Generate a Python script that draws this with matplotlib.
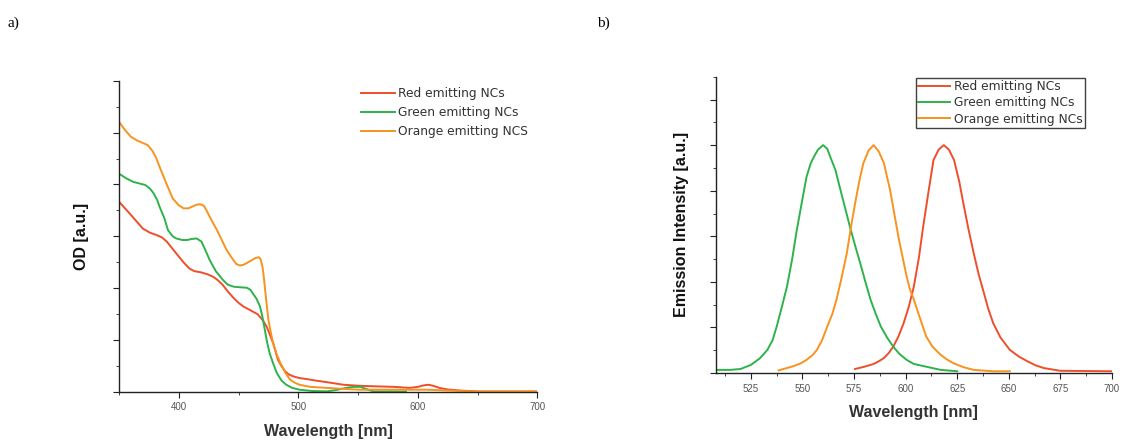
import matplotlib
matplotlib.use('Agg')
import matplotlib.pyplot as plt
import numpy as np
from matplotlib.ticker import MultipleLocator

plt.rcParams['font.family'] = ['Liberation Sans', 'DejaVu Sans']

RED = '#EE4E2C'
GREEN = '#2DB34B'
ORANGE = '#F7931E'

# a) absorption spectra
abs_red_x = [350, 359, 370, 376, 381, 386, 390, 398, 404, 409, 413, 418, 424, 429, 433, 437, 441, 446, 450, 454,
             458, 462, 466, 469, 471, 473.5, 476, 479, 483, 486, 489, 492, 496, 501, 507, 515, 524, 538, 552, 565,
             580, 593, 600, 605, 609, 613, 618, 625, 635, 652, 700]
abs_red_y = [3.67, 3.44, 3.15, 3.07, 3.03, 2.98, 2.9, 2.67, 2.5, 2.38, 2.33, 2.31, 2.27, 2.22, 2.15, 2.06, 1.94, 1.81,
             1.72, 1.65, 1.6, 1.55, 1.5, 1.42, 1.36, 1.26, 1.12, 0.94, 0.62, 0.5, 0.4, 0.34, 0.3, 0.27, 0.25, 0.22,
             0.19, 0.14, 0.12, 0.11, 0.1, 0.08, 0.1, 0.13, 0.14, 0.12, 0.08, 0.05, 0.03, 0.01, 0.01]
abs_green_x = [350, 356, 362, 367, 372, 376, 379, 382, 384, 388, 391, 395, 398, 403, 407, 411, 415, 419, 422, 426,
               431, 437, 441, 446, 451, 457, 460, 462, 465, 468, 470, 472, 474, 476, 479, 482, 486, 490, 495,
               501, 512, 524, 532, 540, 546, 552, 558, 563, 575, 590]
abs_green_y = [4.21, 4.12, 4.05, 4.02, 3.99, 3.92, 3.83, 3.7, 3.57, 3.35, 3.12, 3.0, 2.96, 2.93, 2.93, 2.95, 2.96,
               2.9, 2.75, 2.54, 2.33, 2.16, 2.07, 2.03, 2.02, 2.01, 1.97, 1.9, 1.8, 1.65, 1.45, 1.2, 0.95, 0.75,
               0.55, 0.37, 0.22, 0.14, 0.08, 0.045, 0.02, 0.013, 0.04, 0.08, 0.1, 0.1, 0.05, 0.01, 0.01, 0.01]
abs_orange_x = [350, 355, 360, 365, 370, 374, 378, 381, 384, 390, 395, 400, 404, 408, 411, 415, 418, 421, 423, 427,
                432, 436, 440, 444, 448, 451, 454, 458, 461, 464, 467, 468.5, 470, 471, 472, 473.5, 475, 477, 479,
                482, 485, 489, 493, 497, 501, 510, 524, 538, 552, 580, 607, 625, 649, 700]
abs_orange_y = [5.21, 5.05, 4.92, 4.85, 4.8, 4.76, 4.65, 4.52, 4.34, 4.0, 3.73, 3.6, 3.54, 3.54, 3.57, 3.61, 3.62,
                3.59, 3.51, 3.33, 3.12, 2.93, 2.74, 2.6, 2.47, 2.44, 2.45, 2.5, 2.54, 2.58, 2.6, 2.56, 2.42, 2.25,
                2.03, 1.7, 1.39, 1.15, 0.94, 0.72, 0.56, 0.38, 0.24, 0.18, 0.14, 0.1, 0.08, 0.06, 0.045, 0.045,
                0.045, 0.03, 0.01, 0.01]

# b) emission spectra
em_green_x = [508, 515, 520, 525, 529.5, 533, 535.5, 537.5, 540, 542.5, 545, 547, 549.5, 552, 554, 555.5, 557.5,
              560, 562, 563.5, 566, 568, 570.5, 573, 575.5, 578, 580.5, 583, 585.5, 588, 591, 594, 597, 600.5,
              604, 609, 617, 625]
em_green_y = [0.07, 0.07, 0.09, 0.18, 0.33, 0.51, 0.72, 1.02, 1.45, 1.9, 2.5, 3.07, 3.7, 4.31, 4.6, 4.74, 4.9, 5.0,
              4.92, 4.74, 4.45, 4.09, 3.65, 3.21, 2.8, 2.41, 2.0, 1.61, 1.3, 1.02, 0.78, 0.58, 0.42, 0.29, 0.2,
              0.15, 0.07, 0.04]
em_orange_x = [538.5, 545.5, 549, 552, 555, 557, 559.5, 562, 564.5, 566.5, 569, 571.5, 573.5, 575.5, 577.5,
               579.5, 582, 584.5, 587, 589.5, 591, 592.5, 594.5, 596.5, 598.5, 600.5, 602, 604, 607, 610,
               613, 617, 620, 623, 628, 633, 642.5, 650.5]
em_orange_y = [0.06, 0.15, 0.21, 0.29, 0.4, 0.51, 0.72, 1.02, 1.3, 1.61, 2.1, 2.63, 3.2, 3.72, 4.2, 4.6, 4.88, 5.0,
               4.86, 4.6, 4.3, 4.01, 3.5, 2.99, 2.55, 2.12, 1.85, 1.61, 1.2, 0.8, 0.58, 0.4, 0.3, 0.22, 0.13,
               0.07, 0.04, 0.04]
em_red_x = [575.5, 580, 584.5, 587, 589.5, 592, 594, 596.5, 599, 601.5, 604, 606.5, 608.5, 611, 613.5, 616,
            618.5, 621, 623.5, 626, 628, 630.5, 633, 635.5, 638, 640, 642.5, 646, 650.5, 655, 659, 663, 667,
            675, 700]
em_red_y = [0.09, 0.14, 0.2, 0.26, 0.33, 0.45, 0.58, 0.8, 1.09, 1.45, 1.9, 2.55, 3.21, 3.95, 4.67, 4.9, 5.0, 4.9,
            4.67, 4.2, 3.72, 3.15, 2.63, 2.15, 1.75, 1.42, 1.09, 0.78, 0.51, 0.36, 0.26, 0.17, 0.11, 0.05, 0.04]

fig = plt.figure(figsize=(11.22, 4.41), dpi=100)
ax1 = fig.add_axes([0.106, 0.111, 0.373, 0.706])
ax2 = fig.add_axes([0.638, 0.154, 0.353, 0.672])

def style(ax):
    for s in ['top', 'right']:
        ax.spines[s].set_visible(False)
    for s in ['left', 'bottom']:
        ax.spines[s].set_linewidth(1.0)
        ax.spines[s].set_color('#222222')
    ax.tick_params(which='both', direction='out', colors='#222222', labelcolor='#555555', labelsize=7)
    ax.tick_params(which='major', length=4)
    ax.tick_params(which='minor', length=2.5)
    ax.set_yticklabels([])

legfont = {'family': 'DejaVu Sans', 'size': 8.8}

lw = 1.4
ax1.plot(abs_red_x, abs_red_y, color=RED, lw=lw, label='Red emitting NCs')
ax1.plot(abs_green_x, abs_green_y, color=GREEN, lw=lw, label='Green emitting NCs')
ax1.plot(abs_orange_x, abs_orange_y, color=ORANGE, lw=lw, label='Orange emitting NCS')
ax1.set_xlim(350, 700)
ax1.set_ylim(0, 6)
ax1.xaxis.set_major_locator(MultipleLocator(100))
ax1.xaxis.set_minor_locator(MultipleLocator(50))
ax1.yaxis.set_major_locator(MultipleLocator(1))
ax1.yaxis.set_minor_locator(MultipleLocator(0.5))
style(ax1)
ax1.set_xlabel('Wavelength [nm]', fontsize=11.5, fontweight='bold', color='#333333', labelpad=8)
ax1.set_ylabel('OD [a.u.]', fontsize=11.5, fontweight='bold', color='#111111', labelpad=14)
leg1 = ax1.legend(loc='upper right', bbox_to_anchor=(0.99, 0.995), frameon=False, prop=legfont,
                  handlelength=2.8, handletextpad=0.3, labelspacing=0.5, borderaxespad=0.0)
for t in leg1.get_texts():
    t.set_color('#333333')

ax2.plot(em_red_x, em_red_y, color=RED, lw=lw, label='Red emitting NCs')
ax2.plot(em_green_x, em_green_y, color=GREEN, lw=lw, label='Green emitting NCs')
ax2.plot(em_orange_x, em_orange_y, color=ORANGE, lw=lw, label='Orange emitting NCs')
ax2.set_xlim(508, 700)
ax2.set_ylim(0, 6.5)
ax2.xaxis.set_major_locator(MultipleLocator(25))
ax2.xaxis.set_minor_locator(MultipleLocator(12.5))
ax2.yaxis.set_major_locator(MultipleLocator(1))
ax2.yaxis.set_minor_locator(MultipleLocator(0.5))
style(ax2)
ax2.set_xlabel('Wavelength [nm]', fontsize=11.5, fontweight='bold', color='#333333', labelpad=8)
ax2.set_ylabel('Emission Intensity [a.u.]', fontsize=11.5, fontweight='bold', color='#111111', labelpad=12)
leg2 = ax2.legend(loc='upper right', bbox_to_anchor=(0.935, 1.0), frameon=True, fancybox=False, prop=legfont,
                  handlelength=2.6, handletextpad=0.3, labelspacing=0.25, borderpad=0.2, borderaxespad=0.1)
leg2.get_frame().set_edgecolor('#111111')
leg2.get_frame().set_linewidth(1.0)
for t in leg2.get_texts():
    t.set_color('#333333')

fig.text(0.007, 0.94, 'a)', fontsize=11, family=['Liberation Serif', 'DejaVu Serif'])
fig.text(0.532, 0.94, 'b)', fontsize=11, family=['Liberation Serif', 'DejaVu Serif'])

plt.savefig('out.png', dpi=100)
